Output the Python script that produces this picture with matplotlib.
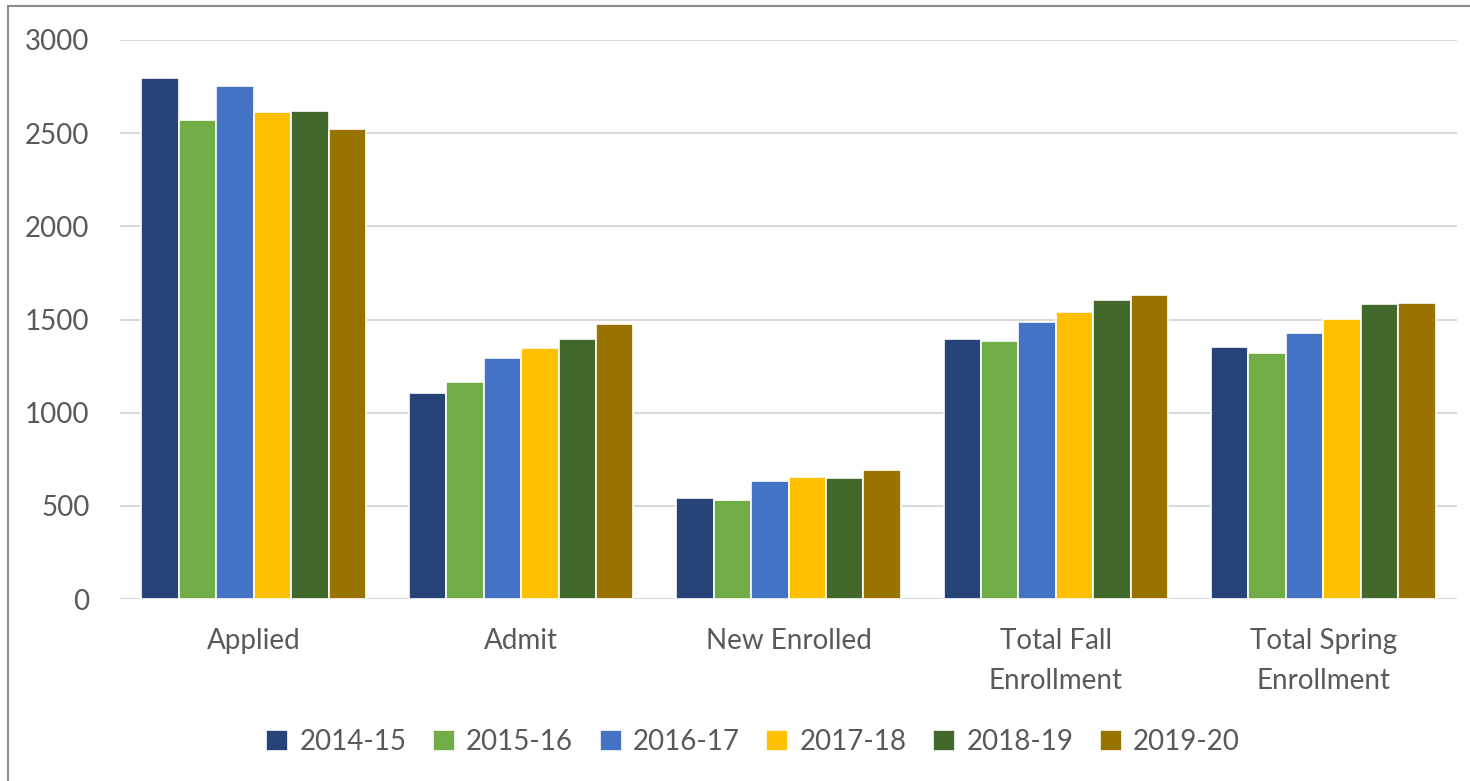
import matplotlib.pyplot as plt
import numpy as np
from matplotlib.lines import Line2D

categories = ["Applied", "Admit", "New Enrolled", "Total Fall\nEnrollment", "Total Spring\nEnrollment"]
years = ["2014-15", "2015-16", "2016-17", "2017-18", "2018-19", "2019-20"]
values = {
    "2014-15": [2794, 1108, 544, 1398, 1352],
    "2015-16": [2570, 1164, 530, 1382, 1319],
    "2016-17": [2751, 1296, 634, 1484, 1430],
    "2017-18": [2615, 1345, 657, 1541, 1504],
    "2018-19": [2619, 1393, 652, 1602, 1581],
    "2019-20": [2522, 1475, 690, 1629, 1589],
}
colors = ["#264478", "#70AD47", "#4472C4", "#FFC000", "#43682B", "#997300"]
yticks = [0, 500, 1000, 1500, 2000, 2500, 3000]

plt.rcParams["font.family"] = ["Lato", "DejaVu Sans"]
TEXT = "#595959"

W, H = 1470, 781
fig = plt.figure(figsize=(W / 100, H / 100), dpi=100)
ax = fig.add_axes([120 / W, 1 - 599 / H, (1457 - 120) / W, (599 - 40) / H])

x = np.arange(len(categories))
width = 0.14
for i, (year, color) in enumerate(zip(years, colors)):
    ax.bar(x + (i - 2.5) * width, values[year], width, color=color,
           edgecolor="white", linewidth=1.2, label=year, zorder=3)

ax.set_xlim(-0.5, len(categories) - 0.5)
ax.set_ylim(0, 3000)
ax.set_yticks(yticks)
ax.set_yticklabels([str(v) for v in yticks])
ax.set_xticks(x)
ax.set_xticklabels(categories, linespacing=1.65)
ax.tick_params(axis="y", length=0, pad=22, labelsize=20, labelcolor=TEXT)
ax.tick_params(axis="x", length=0, pad=21, labelsize=20, labelcolor=TEXT)
ax.grid(axis="y", color="#D9D9D9", linewidth=1.5, zorder=0)
for s in ax.spines.values():
    s.set_visible(False)

ax.legend(loc="center", bbox_to_anchor=((753 - 120) / (1457 - 120), (599 - 742) / (599 - 40)),
          ncol=6, frameon=False, fontsize=20, labelcolor=TEXT,
          handlelength=0.8, handleheight=0.8, handletextpad=0.4, columnspacing=0.95)

# outer frame (top and left edges)
fig.add_artist(Line2D([8 / W, 8 / W], [0, 1 - 6 / H], transform=fig.transFigure, color="#8C8C8C", linewidth=1.5))
fig.add_artist(Line2D([8 / W, 1], [1 - 6 / H, 1 - 6 / H], transform=fig.transFigure, color="#8C8C8C", linewidth=1.5))

fig.savefig("out.png", dpi=100)
plt.close(fig)
